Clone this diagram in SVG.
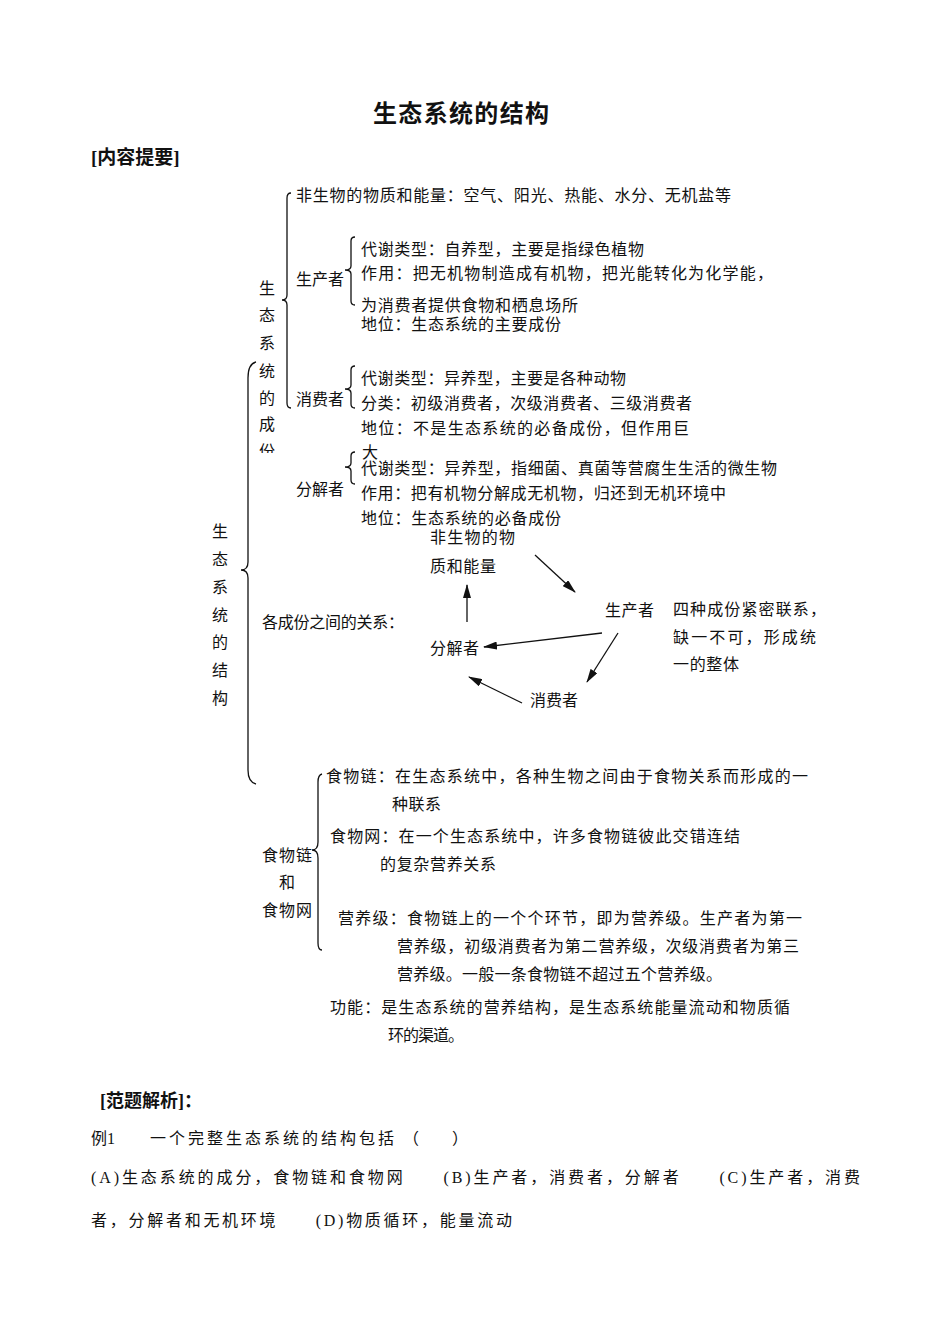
<svg xmlns="http://www.w3.org/2000/svg" width="950" height="1344" viewBox="0 0 950 1344">
<style>
text{font-family:"Liberation Serif","Noto Sans CJK SC",serif;font-size:16px;fill:#111}
.b{font-weight:bold}
.brace{fill:none;stroke:#111;stroke-width:1.3}
.arr{fill:none;stroke:#111;stroke-width:1.3;marker-end:url(#ah)}
</style>
<defs>
<marker id="ah" markerWidth="14" markerHeight="8" refX="13" refY="4" orient="auto" markerUnits="userSpaceOnUse">
<path d="M0,0 L14,4 L0,8 Z" fill="#111"/>
</marker>
<clipPath id="cut"><rect x="250" y="436" width="40" height="17"/></clipPath>
</defs>
<rect width="950" height="1344" fill="#fff"/>

<g id="title">
<text class="b" x="373" y="122" style="font-size:24px" textLength="176">生态系统的结构</text>
<text class="b" x="91" y="164" style="font-size:19px">[内容提要]</text>
</g>

<g id="braces">
<path class="brace" d="M291,193 Q287,193 287,198 L287,295 Q287,300 282,300 Q287,300 287,305 L287,403 Q287,408 291,408"/>
<path class="brace" d="M256,362 Q248,364 248,378 L248,562 Q248,570 241,570 Q248,570 248,578 L248,770 Q248,782 256,784"/>
<path class="brace" d="M355,237 Q351,237 351,241 L351,266 Q351,270 345,270 Q351,270 351,274 L351,301 Q351,305 355,305"/>
<path class="brace" d="M355,366 Q351,366 351,370 L351,385 Q351,389 345,389 Q351,389 351,393 L351,404 Q351,408 355,408"/>
<path class="brace" d="M355,452 Q351,452 351,456 L351,463 Q351,467 345,467 Q351,467 351,471 L351,480 Q351,484 355,484"/>
<path class="brace" d="M322,774 Q318,775 318,782 L318,842 Q318,850 312,850 Q318,850 318,858 L318,943 Q318,950 322,950"/>
</g>

<g id="node-structure">
<text x="212" y="537">生</text>
<text x="212" y="565">态</text>
<text x="212" y="593">系</text>
<text x="212" y="621">统</text>
<text x="212" y="648">的</text>
<text x="212" y="676">结</text>
<text x="212" y="704">构</text>
</g>

<g id="node-components">
<text x="259" y="294">生</text>
<text x="259" y="321">态</text>
<text x="259" y="349">系</text>
<text x="259" y="377">统</text>
<text x="259" y="404">的</text>
<text x="259" y="430">成</text>
<text x="259" y="457" clip-path="url(#cut)">份</text>
</g>

<g id="node-abiotic">
<text x="296" y="201" textLength="435">非生物的物质和能量：空气、阳光、热能、水分、无机盐等</text>
</g>

<g id="node-producer">
<text x="296" y="285" textLength="48">生产者</text>
<text x="361" y="255" textLength="283">代谢类型：自养型，主要是指绿色植物</text>
<text x="361" y="279" textLength="412">作用：把无机物制造成有机物，把光能转化为化学能，</text>
<text x="361" y="311" textLength="217">为消费者提供食物和栖息场所</text>
<text x="361" y="330" textLength="200">地位：生态系统的主要成份</text>
</g>

<g id="node-consumer">
<text x="296" y="405" textLength="48">消费者</text>
<text x="361" y="384" textLength="265">代谢类型：异养型，主要是各种动物</text>
<text x="361" y="409" textLength="331">分类：初级消费者，次级消费者、三级消费者</text>
<text x="361" y="434" textLength="328">地位：不是生态系统的必备成份，但作用巨</text>
<text x="362" y="458">大</text>
</g>

<g id="node-decomposer">
<text x="296" y="495" textLength="48">分解者</text>
<text x="361" y="474" textLength="416">代谢类型：异养型，指细菌、真菌等营腐生生活的微生物</text>
<text x="361" y="499" textLength="365">作用：把有机物分解成无机物，归还到无机环境中</text>
<text x="361" y="524" textLength="200">地位：生态系统的必备成份</text>
</g>

<g id="node-relation-label">
<text x="262" y="628" textLength="142">各成份之间的关系：</text>
</g>

<g id="node-r-abiotic">
<text x="430" y="543" textLength="85">非生物的物</text>
<text x="430" y="572" textLength="66">质和能量</text>
</g>
<g id="node-r-producer">
<text x="605" y="616" textLength="49">生产者</text>
</g>
<g id="node-r-decomposer">
<text x="430" y="654" textLength="49">分解者</text>
</g>
<g id="node-r-consumer">
<text x="530" y="706" textLength="48">消费者</text>
</g>
<g id="node-r-note">
<text x="673" y="615" textLength="153">四种成份紧密联系，</text>
<text x="673" y="643" textLength="143">缺一不可，形成统</text>
<text x="673" y="670" textLength="66">一的整体</text>
</g>

<g id="connectors">
<line class="arr" x1="535" y1="555" x2="575" y2="592"/>
<line class="arr" x1="467" y1="622" x2="467" y2="585"/>
<line class="arr" x1="602" y1="633" x2="484" y2="647"/>
<line class="arr" x1="618" y1="633" x2="587" y2="682"/>
<line class="arr" x1="522" y1="703" x2="469" y2="677"/>
</g>

<g id="node-food">
<text x="262" y="861" textLength="50">食物链</text>
<text x="279" y="888">和</text>
<text x="262" y="916" textLength="50">食物网</text>
</g>

<g id="node-foodchain">
<text x="326" y="782" textLength="482">食物链：在生态系统中，各种生物之间由于食物关系而形成的一</text>
<text x="392" y="810" textLength="49">种联系</text>
</g>
<g id="node-foodweb">
<text x="330" y="842" textLength="410">食物网：在一个生态系统中，许多食物链彼此交错连结</text>
<text x="380" y="870" textLength="116">的复杂营养关系</text>
</g>
<g id="node-trophic">
<text x="338" y="924" textLength="464">营养级：食物链上的一个个环节，即为营养级。生产者为第一</text>
<text x="397" y="952" textLength="402">营养级，初级消费者为第二营养级，次级消费者为第三</text>
<text x="397" y="980" textLength="325">营养级。一般一条食物链不超过五个营养级。</text>
</g>
<g id="node-function">
<text x="330" y="1013" textLength="460">功能：是生态系统的营养结构，是生态系统能量流动和物质循</text>
<text x="388" y="1041" textLength="76">环的渠道。</text>
</g>

<g id="example">
<text class="b" x="100" y="1107" style="font-size:18px">[范题解析]：</text>
<text x="91" y="1144">例1</text>
<text x="150" y="1144" textLength="244">一个完整生态系统的结构包括</text>
<text x="403" y="1144">（</text>
<text x="452" y="1144">）</text>
<text x="91" y="1183" textLength="769">(A)生态系统的成分，食物链和食物网　　(B)生产者，消费者，分解者　　(C)生产者，消费</text>
<text x="91" y="1226" textLength="421">者，分解者和无机环境　　(D)物质循环，能量流动</text>
</g>
</svg>
